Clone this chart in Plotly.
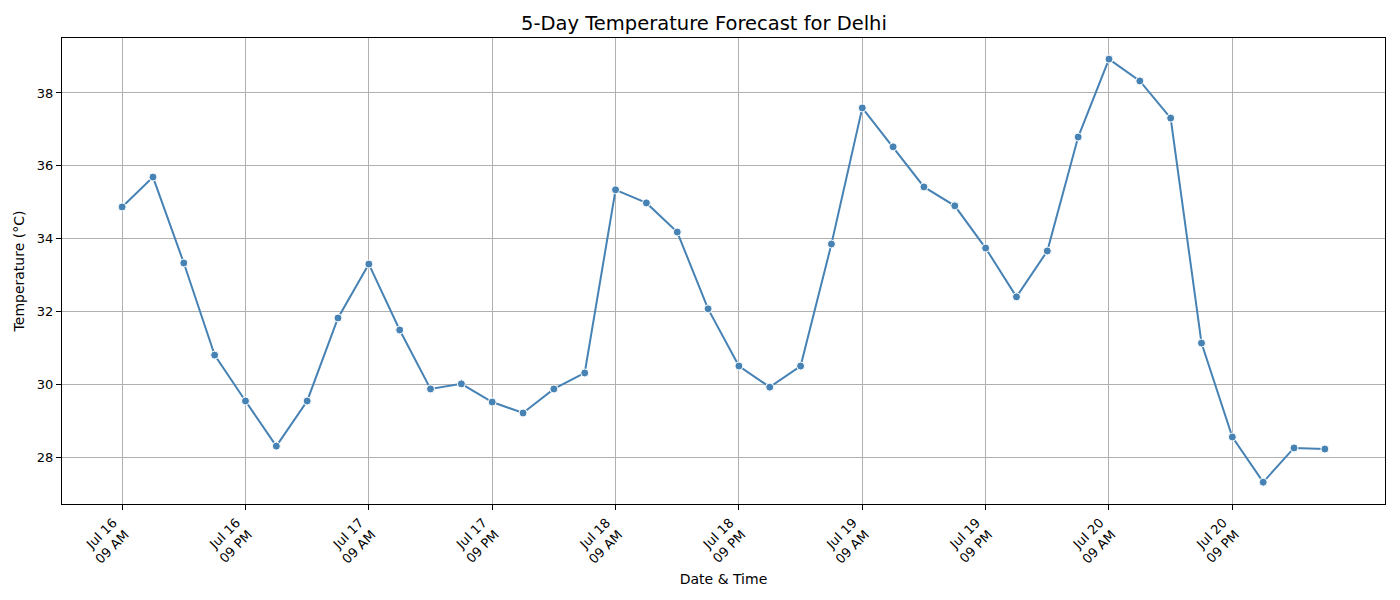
import pandas as pd
import plotly.graph_objects as go

start = pd.Timestamp("2025-07-16 09:00")
times = pd.date_range(start, periods=40, freq="3h")
temps = [34.87, 35.69, 33.33, 30.80, 29.54, 28.30, 29.54, 31.82, 33.30, 31.49,
         29.87, 30.01, 29.51, 29.21, 29.87, 30.31, 35.34, 34.98, 34.18, 32.07,
         30.50, 29.92, 30.50, 33.85, 37.59, 36.52, 35.42, 34.90, 33.74, 32.40,
         33.66, 36.79, 38.93, 38.33, 37.31, 31.13, 28.55, 27.31, 28.25, 28.22]
tick_times = pd.date_range(start, periods=10, freq="12h")
tick_text = [t.strftime("%b %d<br>%I %p") for t in tick_times]
y_ticks = [28, 30, 32, 34, 36, 38]

pad = pd.Timedelta(hours=5.85)

fig = go.Figure(go.Scatter(
    x=times, y=temps, mode="lines+markers",
    line=dict(color="#4682B4", width=2),
    marker=dict(color="#4682B4", size=8, line=dict(color="white", width=1)),
))

fig.update_layout(
    width=1392, height=592,
    margin=dict(l=54, r=15, t=30, b=96),
    paper_bgcolor="white", plot_bgcolor="white",
    font=dict(family="DejaVu Sans", size=13, color="black"),
    title=dict(text="5-Day Temperature Forecast for Delhi", x=0.5, xanchor="center",
               y=1 - 15/592, yanchor="middle", font=dict(size=19.5)),
    showlegend=False,
)
fig.update_xaxes(
    range=[times[0] - pad, times[-1] + pad],
    tickvals=tick_times, ticktext=tick_text, tickangle=-45,
    ticklabelshift=-9,
    showgrid=True, gridcolor="#b0b0b0", gridwidth=1,
    showline=True, linecolor="black", linewidth=1, mirror=True,
    ticks="outside", ticklen=5, tickcolor="black",
    title=dict(text="Date & Time", font=dict(size=14), standoff=8),
    zeroline=False,
)
fig.update_yaxes(
    range=[26.71, 39.51], tickvals=y_ticks,
    showgrid=True, gridcolor="#b0b0b0", gridwidth=1,
    showline=True, linecolor="black", linewidth=1, mirror=True,
    ticks="outside", ticklen=5, tickcolor="black",
    title=dict(text="Temperature (°C)", font=dict(size=14), standoff=8),
    zeroline=False,
)
fig.write_html("out.html")
